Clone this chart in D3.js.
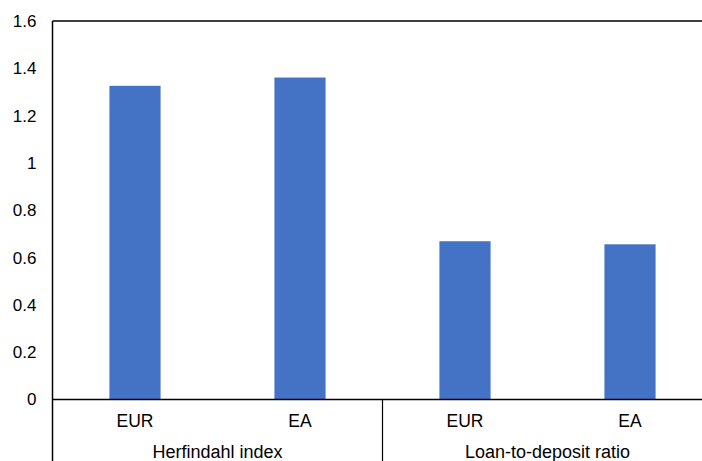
<!DOCTYPE html>
<html>
<head>
<meta charset="utf-8">
<script src="https://cdn.jsdelivr.net/npm/d3@7"></script>
<style>
  body { margin: 0; background: #fff; }
  svg { display: block; font-family: "Liberation Sans", Arial, sans-serif; }
</style>
</head>
<body>
<svg width="702" height="461"></svg>
<script>
// data
const groups = ["Herfindahl index", "Loan-to-deposit ratio"];
const labels = ["EUR", "EA", "EUR", "EA"];
const groupOf = [0, 0, 1, 1];
const values = [1.326, 1.361, 0.669, 0.656];
const yTicks = [0, 0.2, 0.4, 0.6, 0.8, 1, 1.2, 1.4, 1.6];

const width = 702, height = 461;
const mLeft = 52.5, mRight = 712.5, mTop = 21, mBottom = 399.5;

const svg = d3.select("svg");

const x = d3.scaleBand()
  .domain(d3.range(values.length))
  .range([mLeft, mRight])
  .paddingInner(0.69)
  .paddingOuter(0.345);

const y = d3.scaleLinear()
  .domain([0, 1.6])
  .range([mBottom, mTop]);

// bars
svg.selectAll("rect.bar")
  .data(values)
  .enter()
  .append("rect")
  .attr("class", "bar")
  .attr("x", (d, i) => x(i))
  .attr("y", d => y(d))
  .attr("width", x.bandwidth())
  .attr("height", d => y(0) - y(d))
  .attr("fill", "#4472c4");

// y axis labels (no tick marks)
const yAxis = d3.axisLeft(y).tickValues(yTicks).tickSize(0).tickPadding(16)
  .tickFormat(d => d3.format("~g")(d));
const gy = svg.append("g").attr("transform", `translate(${mLeft},0)`).call(yAxis);
gy.select(".domain").remove();
gy.selectAll("text").attr("font-size", 17).attr("fill", "#000")
  .attr("font-family", "Liberation Sans, Arial, sans-serif");

// frame lines
svg.append("line").attr("x1", mLeft).attr("x2", width).attr("y1", mTop).attr("y2", mTop)
  .attr("stroke", "#000").attr("stroke-width", 1.5);
svg.append("line").attr("x1", mLeft).attr("x2", mLeft).attr("y1", mTop).attr("y2", height)
  .attr("stroke", "#000").attr("stroke-width", 1.5);
svg.append("line").attr("x1", mLeft).attr("x2", width).attr("y1", mBottom).attr("y2", mBottom)
  .attr("stroke", "#000").attr("stroke-width", 1.5);

// group separators
const step = x.step();
const groupStart = groups.map((g, gi) => x(groupOf.indexOf(gi)) - x.paddingInner() * step / 2);
svg.selectAll("line.sep")
  .data(groupStart.slice(1))
  .enter()
  .append("line")
  .attr("x1", d => d).attr("x2", d => d)
  .attr("y1", mBottom).attr("y2", height)
  .attr("stroke", "#000").attr("stroke-width", 1.2);

// category labels
svg.selectAll("text.cat")
  .data(labels)
  .enter()
  .append("text")
  .attr("x", (d, i) => x(i) + x.bandwidth() / 2)
  .attr("y", 427)
  .attr("text-anchor", "middle")
  .attr("font-size", 17.5)
  .text(d => d);

// group labels
svg.selectAll("text.grp")
  .data(groups)
  .enter()
  .append("text")
  .attr("x", (d, gi) => {
    const idx = groupOf.map((g, i) => g === gi ? i : -1).filter(i => i >= 0);
    return (x(idx[0]) + x(idx[idx.length - 1]) + x.bandwidth()) / 2;
  })
  .attr("y", 457.5)
  .attr("text-anchor", "middle")
  .attr("font-size", 18)
  .text(d => d);
</script>
</body>
</html>
